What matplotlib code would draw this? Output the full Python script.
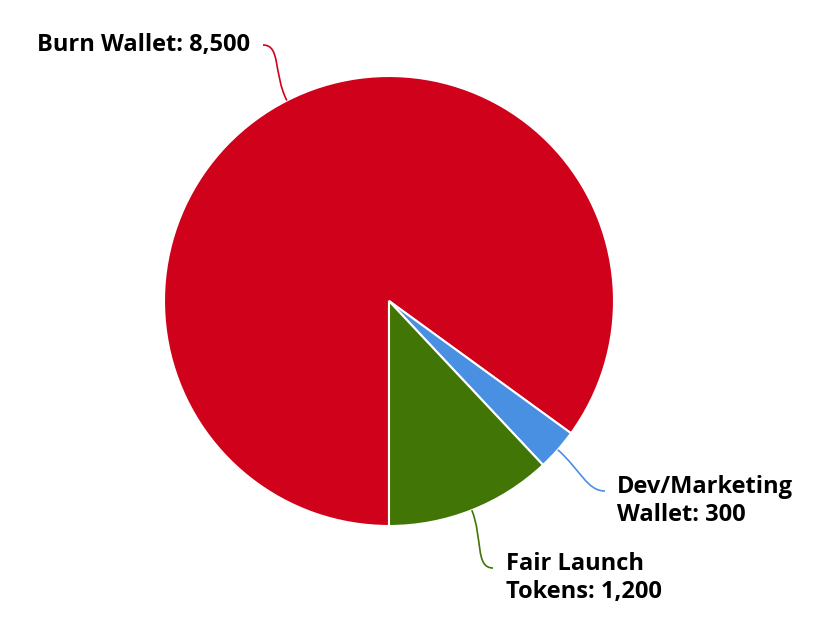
import numpy as np
import matplotlib
matplotlib.use('Agg')
from matplotlib import pyplot as plt
from matplotlib.path import Path
from matplotlib.patches import PathPatch

# token split data
labels = ['Burn Wallet', 'Dev/Marketing\nWallet', 'Fair Launch\nTokens']
values = [8500, 300, 1200]
colors = ['#D0021B', '#4A90E2', '#417505']

# where the labels sit (pixel coords, y from top) and which side the text is
label_pos = [(250, 45), (617, 501), (506, 578)]
line_end = [(263, 45), (605, 491), (493, 568)]
align = ['right', 'left', 'left']

W, H = 834, 640
fig = plt.figure(figsize=(W / 100, H / 100), dpi=100)
ax = fig.add_axes([0, 0, 1, 1])

cx, cy, r = 389, H - 301, 225
wedges, _ = ax.pie(values, colors=colors, startangle=-90, counterclock=False,
                   center=(cx, cy), radius=r, frame=True,
                   wedgeprops=dict(edgecolor='white', linewidth=1.5))
ax.set_xlim(0, W)
ax.set_ylim(0, H)
ax.axis('off')

for w, lab, val, col, (tx, ty), (ex, ey), ha in zip(wedges, labels, values, colors,
                                                   label_pos, line_end, align):
    mid = np.deg2rad((w.theta1 + w.theta2) / 2)
    ux, uy = np.cos(mid), np.sin(mid)
    ax0, ay0 = cx + r * ux, cy + r * uy
    ey = H - ey
    side = 1 if ha == 'right' else -1
    verts = [(ax0, ay0), (ax0 + ux * 30, ay0 + uy * 30),
             (ex + side * 18, ey), (ex, ey)]
    p = Path(verts, [Path.MOVETO, Path.CURVE4, Path.CURVE4, Path.CURVE4])
    ax.add_patch(PathPatch(p, facecolor='none', edgecolor=col, lw=1.2))
    ax.text(tx, H - ty, f'{lab}: {val:,}', ha=ha, va='center',
            fontsize=17, fontweight='bold', family='Open Sans',
            color='black', linespacing=1.27)

plt.savefig('out.png', dpi=100)
